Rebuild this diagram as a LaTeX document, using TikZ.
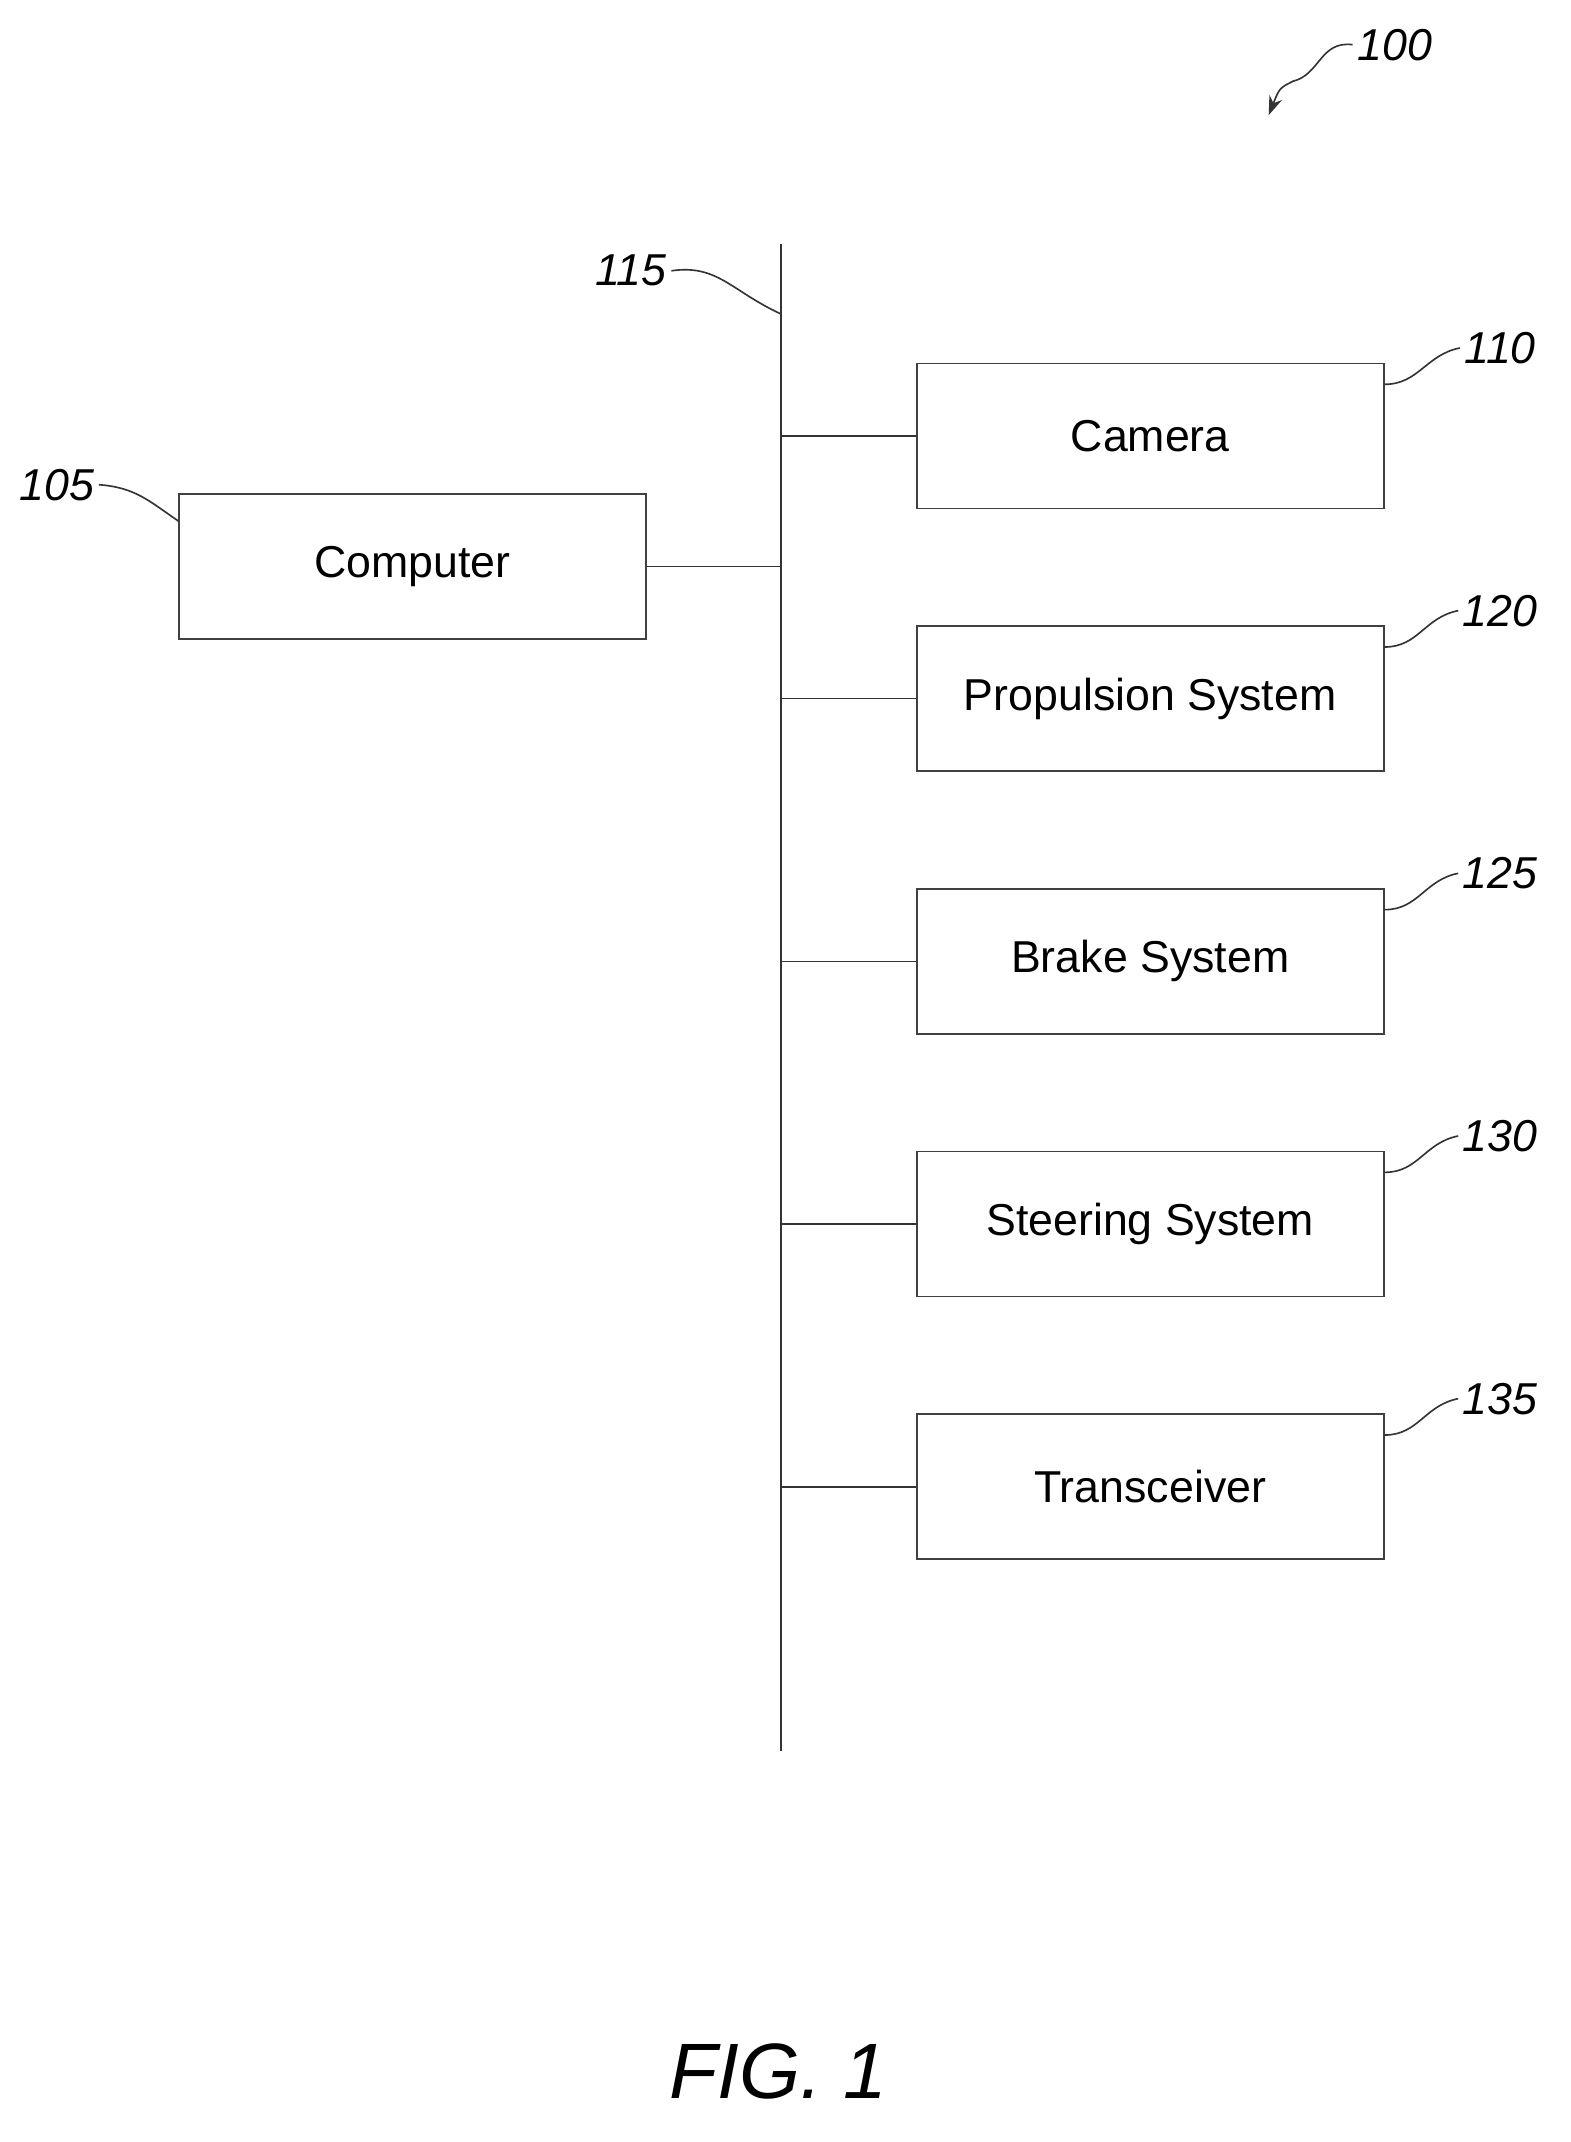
\documentclass[tikz,border=0pt]{standalone}
\usepackage{fontspec}
\setmainfont{Liberation Sans}
\usepackage{tikz}
\usetikzlibrary{arrows.meta}

\tikzset{
  blk/.style={draw=black!75, line width=1.3pt, minimum width=345pt, minimum height=107pt, inner sep=0pt, font=\fontsize{33}{38}\selectfont},
  refno/.style={font=\fontsize{33}{38}\selectfont\itshape},
  lead/.style={line width=1.2pt, black!80},
  bus/.style={line width=1.5pt, black!80}
}

\begin{document}
\begin{tikzpicture}[x=1pt,y=1pt,yscale=-1,xscale=1]
\useasboundingbox (0,0) rectangle (1160,1582);

%Bus line
\coordinate (bustop) at (577,180);
\coordinate (busbot) at (577,1293);
\draw [bus] (bustop) -- (busbot) ;

%Blocks
\node [blk] (computer) at (304.5,418.5) {Computer};
\node [blk] (camera) at (849.5,322) {Camera};
\node [blk] (prop) at (849.5,516) {Propulsion System};
\node [blk] (brake) at (849.5,710) {Brake System};
\node [blk] (steer) at (849.5,904) {Steering System};
\node [blk] (trans) at (849.5,1098) {Transceiver};

%Connections to bus
\draw [lead] (computer.east) -- (computer.east -| bustop) ;
\foreach \n in {camera,prop,brake,steer,trans}
  \draw [lead] (\n.west -| bustop) -- (\n.west) ;

% Reference numerals
\node [refno] (r100) at (1030,33) {100};
\node [refno] (r105) at (42,358) {105};
\node [refno] (r115) at (466,200) {115};
\node [refno] (r110) at (1108,257) {110};
\node [refno] (r120) at (1108,451) {120};
\node [refno] (r125) at (1108,645) {125};
\node [refno] (r130) at (1108,839) {130};
\node [refno] (r135) at (1108,1033) {135};

% Leaders
\draw [lead, -{Stealth[length=14pt,width=10pt]}] (r100.west) .. controls (975,30) and (975,55) .. (955,60) .. controls (945,65) .. (937,85) ;
\draw [lead] (r105.east) .. controls (100,360) and (110,370) .. (132,385) ;
\draw [lead] (r115.east) .. controls (530,195) and (540,215) .. (577,232) ;
\foreach \n/\r in {camera/r110,prop/r120,brake/r125,steer/r130,trans/r135}
  \draw [lead] (\n.north east) ++(0,16) .. controls +(25,0) and +(-25,5) .. (\r.west) ;

% Figure label
\node [font=\fontsize{58}{66}\selectfont\itshape] (fig) at (575,1530) {FIG. 1};

\end{tikzpicture}
\end{document}
